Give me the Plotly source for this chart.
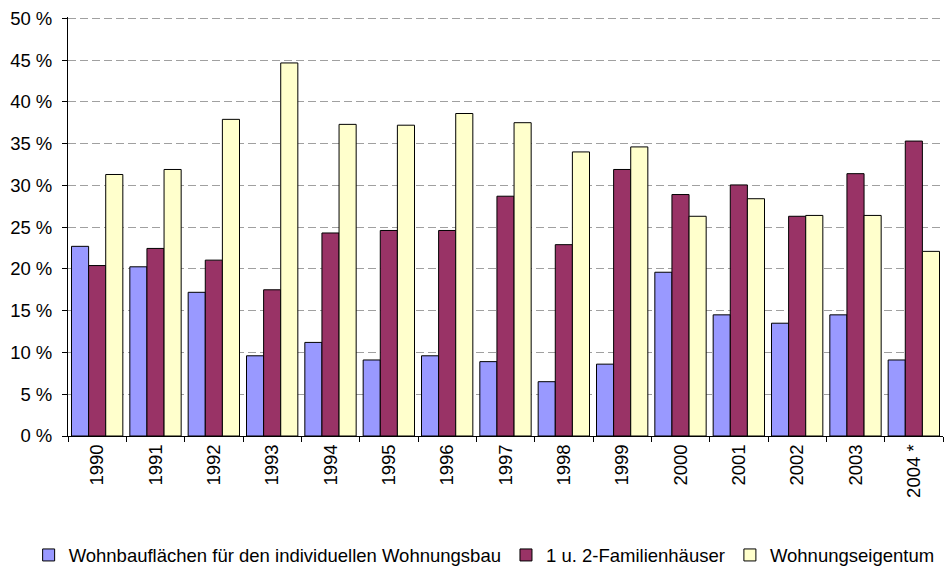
import plotly.graph_objects as go

years = ["1990", "1991", "1992", "1993", "1994", "1995", "1996", "1997",
         "1998", "1999", "2000", "2001", "2002", "2003", "2004 *"]
wohnbauflaechen = [22.7, 20.25, 17.2, 9.6, 11.2, 9.1, 9.6, 8.9, 6.5, 8.6,
                   19.6, 14.5, 13.5, 14.5, 9.1]
familienhaeuser = [20.4, 22.45, 21.05, 17.5, 24.3, 24.6, 24.6, 28.7, 22.9, 31.9,
                   28.9, 30.05, 26.3, 31.4, 35.3]
wohnungseigentum = [31.3, 31.9, 37.9, 44.65, 37.3, 37.2, 38.6, 37.5, 34.0, 34.6,
                    26.3, 28.4, 26.4, 26.4, 22.1]
series_names = ["Wohnbauflächen für den individuellen Wohnungsbau",
                "1 u. 2-Familienhäuser", "Wohnungseigentum"]
colors = ["#9999FF", "#993366", "#FFFFCC"]
y_ticks = [0, 5, 10, 15, 20, 25, 30, 35, 40, 45, 50]
y_tick_labels = [f"{v} %" for v in y_ticks]

fig = go.Figure()
for name, vals, col in zip(series_names,
                           [wohnbauflaechen, familienhaeuser, wohnungseigentum],
                           colors):
    fig.add_trace(go.Bar(
        x=years, y=vals, name=name,
        marker=dict(color=col, line=dict(color="#000000", width=1)),
    ))

# page body has an 8px margin, so the figure is 8px smaller and margins shifted
fig.update_layout(
    width=944, height=559,
    margin=dict(l=60, r=9, t=9, b=131, autoexpand=False),
    paper_bgcolor="white", plot_bgcolor="white",
    barmode="group", bargap=0.12, bargroupgap=0,
    font=dict(family="Liberation Sans, Arial, sans-serif", size=18.5, color="#000000"),
    showlegend=True,
    legend=dict(orientation="h", x=-0.045, xanchor="left", y=-0.285, yanchor="middle",
                font=dict(size=18.5), itemwidth=30, tracegroupgap=0,
                bgcolor="rgba(0,0,0,0)"),
    xaxis=dict(
        type="category", showline=True, linecolor="#000000", linewidth=1,
        ticks="outside", tickson="boundaries", ticklen=5, tickcolor="#000000",
        tickangle=-90, showgrid=False, zeroline=False, automargin=False,
    ),
    yaxis=dict(
        range=[0, 50.15], tickvals=y_ticks, ticktext=y_tick_labels,
        showline=True, linecolor="#000000", linewidth=1,
        ticks="outside", ticklen=5, tickcolor="#000000", ticklabelstandoff=6,
        ticklabeloverflow="allow",
        showgrid=True, gridcolor="#A0A0A0", gridwidth=1, griddash="8px,4px",
        zeroline=False, automargin=False,
    ),
)

fig.write_html("out.html")
